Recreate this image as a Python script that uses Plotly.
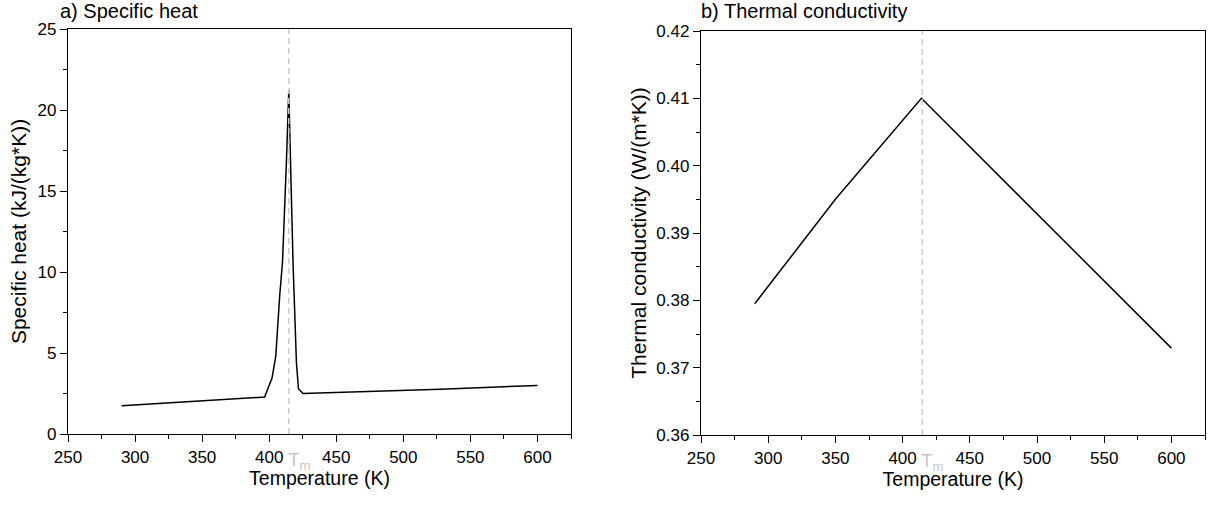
import plotly.graph_objects as go

# ---- data ----
T_cp = [290, 396.6, 402.1, 404.9, 407.8, 409.9, 412.8, 414.6, 415.3, 417.8, 420.3, 421.8, 425.2, 527.6, 600]
cp = [1.75, 2.28, 3.45, 4.8, 8.5, 10.6, 16.7, 21.2, 18.8, 10.5, 4.4, 2.8, 2.5, 2.76, 3.0]

T_k = [290, 350, 414, 600]
k_vals = [0.3795, 0.3950, 0.4100, 0.3729]

Tm = 414.6

x_ticks = [250, 300, 350, 400, 450, 500, 550, 600]
cp_ticks = [0, 5, 10, 15, 20, 25]
k_ticks = [0.36, 0.37, 0.38, 0.39, 0.40, 0.41, 0.42]

FONT = "Liberation Sans, Arial, sans-serif"
TICK_SIZE = 17
XTITLE_SIZE = 19.5
YTITLE_SIZE = 21
PANEL_SIZE = 20

fig = go.Figure()
fig.add_trace(go.Scatter(x=T_cp, y=cp, mode="lines", line=dict(color="black", width=1.5),
                         xaxis="x", yaxis="y", showlegend=False))
fig.add_trace(go.Scatter(x=T_k, y=k_vals, mode="lines", line=dict(color="black", width=1.5),
                         xaxis="x2", yaxis="y2", showlegend=False))

axis_common = dict(showline=True, linecolor="black", linewidth=1.3, mirror=True,
                   ticks="outside", ticklen=7, tickwidth=1.3, tickcolor="black",
                   showgrid=False, zeroline=False, automargin=False,
                   tickfont=dict(family=FONT, size=TICK_SIZE, color="black"))

minor_x = dict(dtick=25, tick0=250, ticks="outside", ticklen=4, tickcolor="black", tickwidth=1.3)

xdom1 = [68/1208, 571/1208]
xdom2 = [701/1208, 1205/1208]
ydom = [1 - 434/506, 1 - 29/506]
ydom2 = [1 - 435/506, 1 - 31/506]

fig.update_layout(
    width=1208, height=506,
    margin=dict(l=0, r=0, t=0, b=0),
    paper_bgcolor="white", plot_bgcolor="white",
    font=dict(family=FONT, color="black"),
    xaxis=dict(domain=xdom1, range=[250, 625], tickvals=x_ticks, anchor="y", minor=minor_x,
               title=dict(text="Temperature (K)", font=dict(size=XTITLE_SIZE, family=FONT), standoff=1),
               **axis_common),
    yaxis=dict(domain=ydom, range=[0, 25], tickvals=cp_ticks, anchor="x",
               minor=dict(dtick=2.5, tick0=0, ticks="outside", ticklen=4, tickcolor="black", tickwidth=1.3),
               title=dict(text="Specific heat (kJ/(kg*K))", font=dict(size=YTITLE_SIZE, family=FONT), standoff=5),
               **axis_common),
    xaxis2=dict(domain=xdom2, range=[250, 625], tickvals=x_ticks, anchor="y2", minor=minor_x,
                title=dict(text="Temperature (K)", font=dict(size=XTITLE_SIZE, family=FONT), standoff=1),
                **axis_common),
    yaxis2=dict(domain=ydom2, range=[0.36, 0.42], tickvals=k_ticks, tickformat=".2f", anchor="x2",
                minor=dict(dtick=0.005, tick0=0.36, ticks="outside", ticklen=4, tickcolor="black", tickwidth=1.3),
                title=dict(text="Thermal conductivity (W/(m*K))", font=dict(size=YTITLE_SIZE, family=FONT), standoff=4),
                **axis_common),
)

# Tm dashed lines
for xr, yr in (("x", "y domain"), ("x2", "y2 domain")):
    fig.add_shape(type="line", xref=xr, yref=yr, x0=Tm, x1=Tm, y0=0, y1=1,
                  line=dict(color="#cccccc", width=1.5, dash="6px,4px"))

# Tm labels
for xr, yd in (("x", ydom), ("x2", ydom2)):
    fig.add_annotation(x=Tm, xref=xr, y=yd[0], yref="paper", text="T<sub>m</sub>",
                       showarrow=False, xanchor="left", yanchor="top", yshift=-13, xshift=-3,
                       font=dict(family=FONT, size=19, color="#c8c8c8"))

# panel titles
fig.add_annotation(x=58/1208, y=1.0, xref="paper", yref="paper", text="a) Specific heat",
                   showarrow=False, xanchor="left", yanchor="top", yshift=2,
                   font=dict(family=FONT, size=PANEL_SIZE, color="black"))
fig.add_annotation(x=699/1208, y=1.0, xref="paper", yref="paper", text="b) Thermal conductivity",
                   showarrow=False, xanchor="left", yanchor="top", yshift=2,
                   font=dict(family=FONT, size=PANEL_SIZE, color="black"))

fig.write_html("out.html", config={"displayModeBar": False},
               post_script="document.body.style.margin='0';")
